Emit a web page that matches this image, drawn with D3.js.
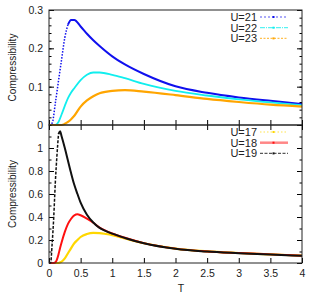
<!DOCTYPE html>
<html>
<head>
<meta charset="utf-8">
<script src="https://cdn.jsdelivr.net/npm/d3@7"></script>
<style>
  body { margin: 0; background: #fff; }
  text { font-family: "Liberation Sans", Arial, sans-serif; fill: #222; }
</style>
</head>
<body>
<div id="chart"></div>
<script>
// Temperature grids
const tTop = [0, 0.05, 0.1, 0.15, 0.2, 0.25, 0.3, 0.35, 0.4, 0.5, 0.6, 0.7, 0.8, 1.0, 1.2, 1.5, 2.0, 2.5, 3.0, 3.5, 4.0];
const tBottom = [0, 0.025, 0.05, 0.075, 0.1, 0.125, 0.15, 0.175, 0.2, 0.25, 0.3, 0.35, 0.4, 0.45, 0.5, 0.6, 0.7, 0.8, 0.9, 1.0, 1.2, 1.5, 2.0, 2.5, 3.0, 3.5, 4.0];

// Top panel series
const u21 = [0, 0.005, 0.057, 0.115, 0.172, 0.228, 0.262, 0.274, 0.274, 0.257, 0.238, 0.221, 0.206, 0.179, 0.158, 0.133, 0.101, 0.084, 0.072, 0.063, 0.055];
const u22 = [0, 0, 0, 0.008, 0.028, 0.05, 0.07, 0.085, 0.096, 0.117, 0.131, 0.137, 0.137, 0.131, 0.122, 0.107, 0.089, 0.077, 0.067, 0.059, 0.052];
const u23 = [0, 0, 0, 0, 0, 0.003, 0.008, 0.015, 0.024, 0.048, 0.064, 0.075, 0.083, 0.089, 0.091, 0.087, 0.078, 0.068, 0.06, 0.053, 0.048];

// Bottom panel series
const u17 = [0, 0, 0, 0, 0, 0, 0, 0.005, 0.012, 0.04, 0.085, 0.13, 0.172, 0.2, 0.226, 0.252, 0.262, 0.26, 0.252, 0.242, 0.213, 0.172, 0.125, 0.101, 0.087, 0.075, 0.064];
const u18 = [0, 0, 0, 0, 0.005, 0.03, 0.075, 0.13, 0.18, 0.27, 0.34, 0.385, 0.415, 0.423, 0.415, 0.385, 0.35, 0.308, 0.28, 0.257, 0.22, 0.173, 0.125, 0.101, 0.087, 0.075, 0.064];
const u19 = [0, 0, 0.17, 0.4, 0.7, 0.93, 1.12, 1.145, 1.1, 1.0, 0.89, 0.78, 0.68, 0.6, 0.525, 0.42, 0.352, 0.305, 0.277, 0.255, 0.218, 0.171, 0.123, 0.099, 0.085, 0.073, 0.062];

const xTicks = [0, 0.5, 1, 1.5, 2, 2.5, 3, 3.5, 4];
const topTicks = [0, 0.1, 0.2, 0.3];
const bottomTicks = [0, 0.2, 0.4, 0.6, 0.8, 1];

const width = 314, height = 294;
const left = 49, right = 302;

const svg = d3.select("#chart").append("svg")
  .attr("width", width)
  .attr("height", height);

const x = d3.scaleLinear().domain([0, 4]).range([left, right]);

const panels = [
  {
    top: 10, bottom: 125, max: 0.3, ticks: topTicks, minor: 0.02, t: tTop,
    series: [
      { name: "U=21", values: u21, color: "#1010ee", width: 2, dashUntil: 0.3, dash: "1.5,1.5", legend: "2,2" },
      { name: "U=22", values: u22, color: "#11eeee", width: 1.8, legend: "5,1,1,1" },
      { name: "U=23", values: u23, color: "#ffa500", width: 2.2, legend: "2,1.5" }
    ]
  },
  {
    top: 125, bottom: 263, max: 1.2, ticks: bottomTicks, minor: 0.1, t: tBottom,
    series: [
      { name: "U=17", values: u17, color: "#ffd700", width: 2.2, legend: "1.5,2" },
      { name: "U=18", values: u18, color: "#ff1010", width: 2, legend: null, legendOpacity: 0.5 },
      { name: "U=19", values: u19, color: "#111111", width: 2, dashUntil: 0.15, dash: "3,1.5", legend: "3,1.5" }
    ]
  }
];

panels.forEach((p, pi) => {
  const y = d3.scaleLinear().domain([0, p.max]).range([p.bottom, p.top]);
  const minorVals = d3.range(0, p.max + 1e-9, p.minor);

  // Left axis with labels
  const gl = svg.append("g").attr("transform", `translate(${left},0)`)
    .call(d3.axisLeft(y).tickValues(p.ticks).tickSize(-5).tickPadding(6)
      .tickFormat(d3.format("~g")));
  gl.select(".domain").remove();
  gl.selectAll("text").style("font-size", "10.5px");
  svg.append("g").attr("transform", `translate(${left},0)`)
    .call(d3.axisLeft(y).tickValues(minorVals).tickSize(-2.5).tickFormat(""))
    .select(".domain").remove();

  // Right axis mirrored
  svg.append("g").attr("transform", `translate(${right},0)`)
    .call(d3.axisRight(y).tickValues(p.ticks).tickSize(-5).tickFormat(""))
    .select(".domain").remove();
  svg.append("g").attr("transform", `translate(${right},0)`)
    .call(d3.axisRight(y).tickValues(minorVals).tickSize(-2.5).tickFormat(""))
    .select(".domain").remove();

  // Bottom x ticks (inward)
  const gb = svg.append("g").attr("transform", `translate(0,${p.bottom})`)
    .call(d3.axisBottom(x).tickValues(xTicks).tickSize(-5).tickPadding(7)
      .tickFormat(pi === 1 ? d3.format("~g") : ""));
  gb.select(".domain").remove();
  gb.selectAll("text").style("font-size", "10.5px");

  // Top x ticks only for the lower panel
  if (pi === 1) {
    svg.append("g").attr("transform", `translate(0,${p.top})`)
      .call(d3.axisTop(x).tickValues(xTicks).tickSize(-5).tickFormat(""))
      .select(".domain").remove();
  }

  // Curves
  p.series.forEach(s => {
    const pts = p.t.map((t, i) => [t, s.values[i]]);
    const line = d3.line()
      .x(d => x(d[0]))
      .y(d => y(d[1]))
      .curve(d3.curveMonotoneX);
    if (s.dashUntil) {
      svg.append("path")
        .attr("d", line(pts.filter(d => d[0] <= s.dashUntil)))
        .attr("fill", "none")
        .attr("stroke", s.color)
        .attr("stroke-width", s.width * 0.75)
        .attr("stroke-dasharray", s.dash);
      svg.append("path")
        .attr("d", line(pts.filter(d => d[0] >= s.dashUntil)))
        .attr("fill", "none")
        .attr("stroke", s.color)
        .attr("stroke-width", s.width);
    } else {
      svg.append("path")
        .attr("d", line(pts))
        .attr("fill", "none")
        .attr("stroke", s.color)
        .attr("stroke-width", s.width);
    }
  });

  // Frame
  svg.append("rect")
    .attr("x", left).attr("y", p.top)
    .attr("width", right - left).attr("height", p.bottom - p.top)
    .attr("fill", "none").attr("stroke", "#222").attr("stroke-width", 1);

  // Y label
  svg.append("text")
    .attr("transform", `translate(16,${(p.top + p.bottom) / 2}) rotate(-90)`)
    .attr("text-anchor", "middle")
    .style("font-size", "10px")
    .text("Compressibility");

  // Legend
  const leg = svg.append("g").attr("transform", `translate(0,${p.top + 7})`);
  p.series.forEach((s, i) => {
    const ly = i * 10.7;
    leg.append("text")
      .attr("x", 257).attr("y", ly + 4)
      .attr("text-anchor", "end")
      .style("font-size", "11px")
      .text(s.name);
    leg.append("line")
      .attr("x1", 260).attr("x2", 288)
      .attr("y1", ly).attr("y2", ly)
      .attr("stroke", s.color)
      .attr("stroke-opacity", s.legendOpacity || 0.7)
      .attr("stroke-width", s.legendOpacity ? 2.5 : 1.2)
      .attr("stroke-dasharray", s.legend);
    leg.append("rect")
      .attr("x", 272.5).attr("y", ly - 1)
      .attr("width", 2).attr("height", 2)
      .attr("fill", s.color);
  });
});

// X label
svg.append("text")
  .attr("x", 181).attr("y", 292)
  .attr("text-anchor", "middle")
  .style("font-size", "10.5px")
  .text("T");
</script>
</body>
</html>
